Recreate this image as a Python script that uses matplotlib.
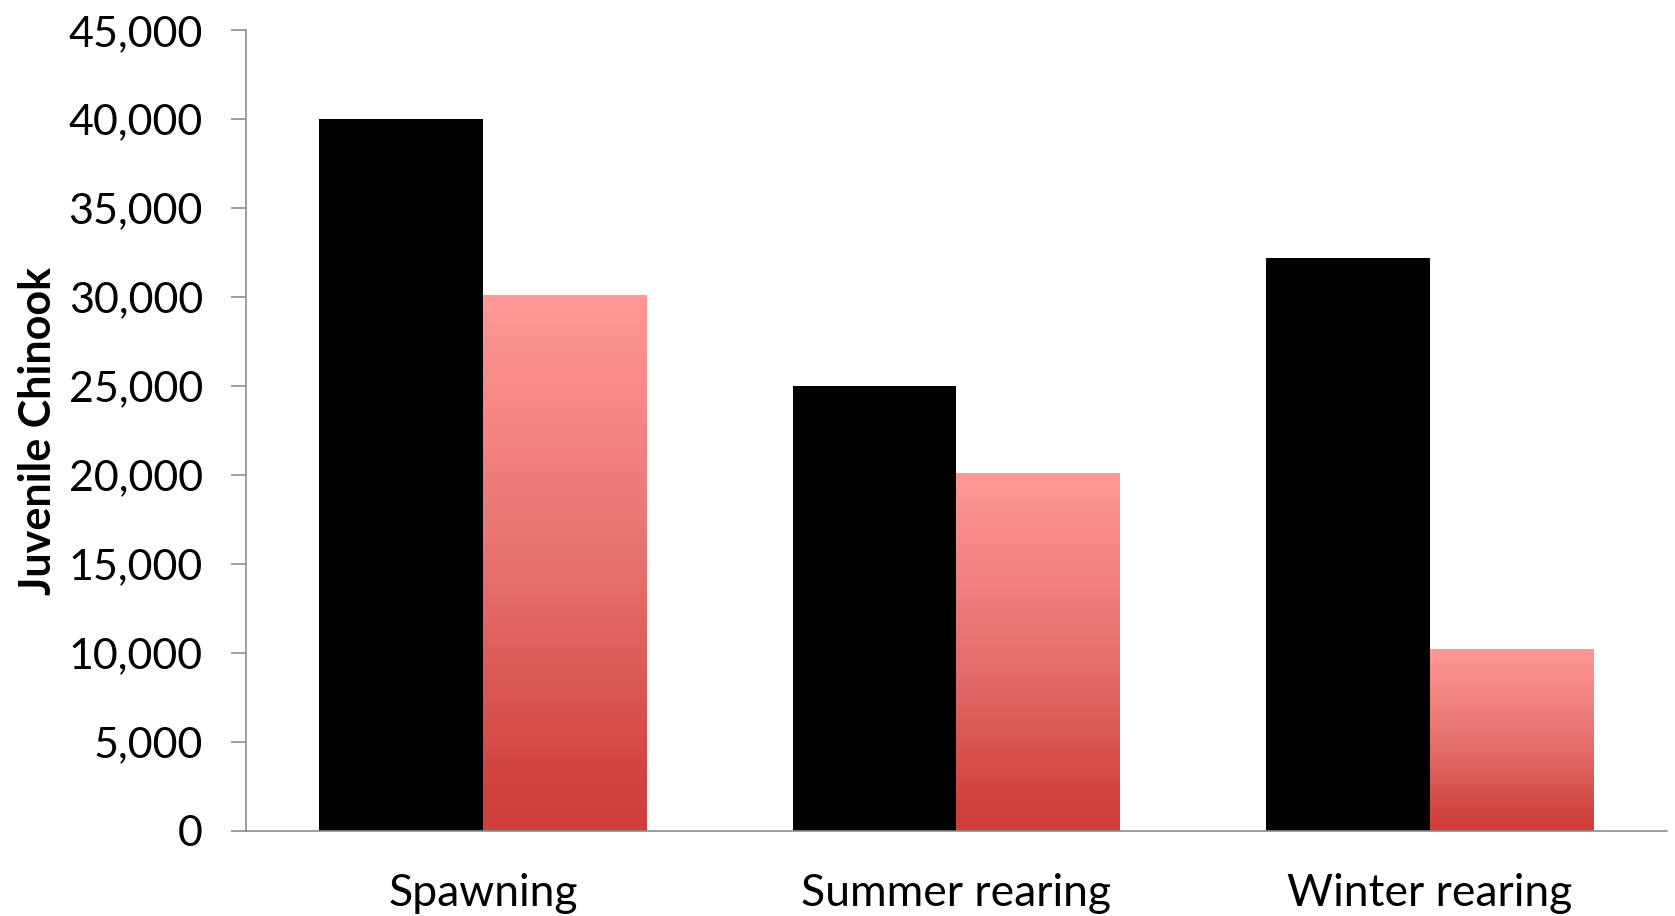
import matplotlib
matplotlib.use("Agg")
import matplotlib.pyplot as plt
import numpy as np
from matplotlib.colors import LinearSegmentedColormap
from matplotlib.ticker import FuncFormatter

categories = ["Spawning", "Summer rearing", "Winter rearing"]
series_black = [40000, 25000, 32200]
series_red = [30100, 20100, 10200]
yticks = [0, 5000, 10000, 15000, 20000, 25000, 30000, 35000, 40000, 45000]

plt.rcParams['font.family'] = ['Lato', 'DejaVu Sans']

fig = plt.figure(figsize=(16.75, 9.16), dpi=100)
ax = fig.add_axes([0.1469, 0.0928, 0.995 - 0.1469, 0.967 - 0.0928])

x = np.arange(len(categories)) + 0.5
w = 0.345
ax.bar(x - w / 2, series_black, width=w, color="black", zorder=2)
red_bars = ax.bar(x + w / 2, series_red, width=w, color="none", zorder=2)

cmap = LinearSegmentedColormap.from_list(
    "redgrad", [(0.0, "#CF403C"), (0.08, "#D0423E"), (0.5, "#E6726F"),
                (1.0, "#FF9896")])
grad = np.linspace(0, 1, 256).reshape(-1, 1)
for p in red_bars:
    bx, by = p.get_x(), p.get_y()
    bw, bh = p.get_width(), p.get_height()
    im = ax.imshow(grad, cmap=cmap, origin="lower", aspect="auto",
                   extent=[bx, bx + bw, by, by + bh], zorder=2)
    im.set_clip_path(p)

ax.set_xlim(0, 3)
ax.set_ylim(0, 45000)
ax.set_yticks(yticks)
ax.yaxis.set_major_formatter(FuncFormatter(lambda v, _: f"{int(v):,}"))
ax.set_xticks(x)
ax.set_xticklabels(categories)

for s in ["top", "right"]:
    ax.spines[s].set_visible(False)
for s in ["left", "bottom"]:
    ax.spines[s].set_color("#8c8c8c")
    ax.spines[s].set_linewidth(1.2)

ax.tick_params(axis="y", length=11, width=1.2, color="#8c8c8c",
               labelsize=31, pad=20, direction="out")
ax.tick_params(axis="x", length=0, labelsize=32, pad=30)
ax.set_ylabel("Juvenile Chinook", fontsize=31, fontweight="bold", labelpad=8)

fig.savefig("out.png", dpi=100, facecolor="white")
